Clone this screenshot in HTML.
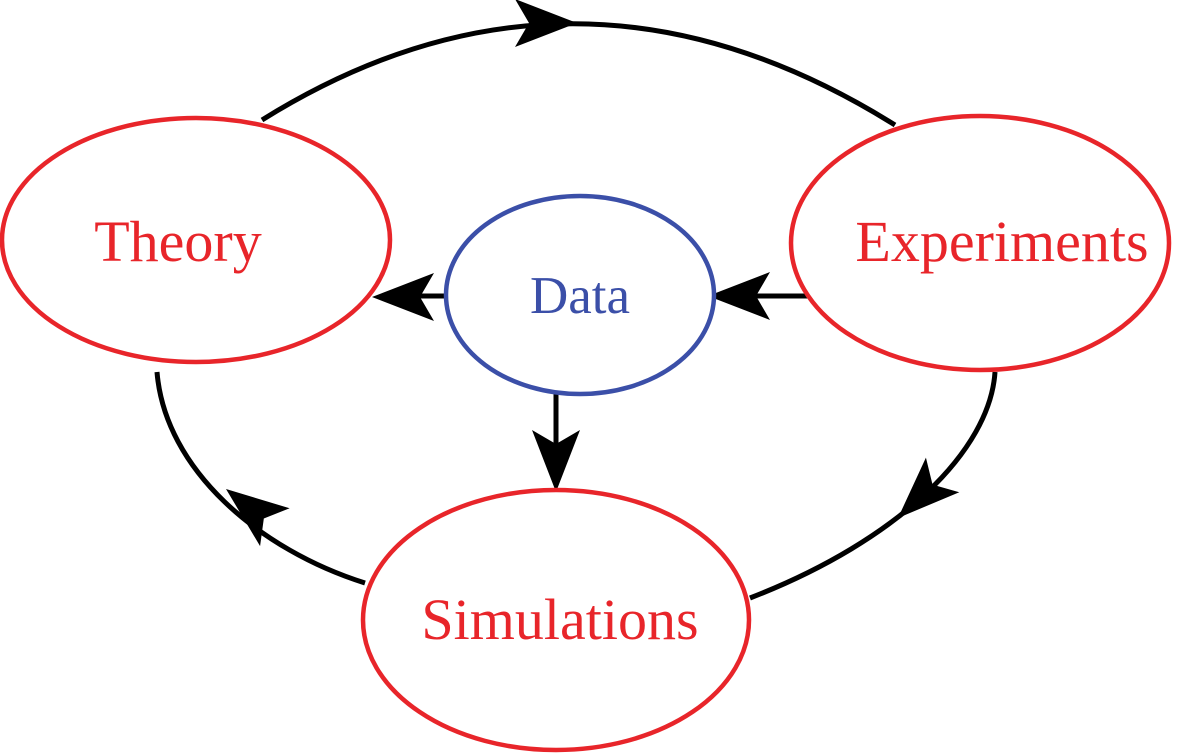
<!DOCTYPE html>
<html><head><meta charset="utf-8"><style>
html,body{margin:0;padding:0;background:#fff;}
svg{display:block;}
</style></head><body>
<svg width="1180" height="755" viewBox="0 0 1180 755" xmlns="http://www.w3.org/2000/svg">
<defs>
<polygon id="ah" points="0,0 -62,-24 -48,0 -62,24" fill="#000"/>
</defs>
<g fill="none" stroke="#000" stroke-width="5">
<path d="M262,120 Q575,-75 895,125"/>
<path d="M995,372 C990,450 900,540 750,598"/>
<path d="M157,372 C165,470 260,550 365,583"/>
<line x1="808" y1="296" x2="720" y2="296"/>
<line x1="445" y1="296" x2="385" y2="296"/>
<line x1="556" y1="392" x2="556" y2="480"/>
</g>
<use href="#ah" transform="translate(577,23) rotate(0)"/>
<use href="#ah" transform="translate(898,518) rotate(136)"/>
<use href="#ah" transform="translate(226,489) rotate(-142)"/>
<use href="#ah" transform="translate(708,296) rotate(180)"/>
<use href="#ah" transform="translate(372,297) rotate(180)"/>
<use href="#ah" transform="translate(556,492) rotate(90)"/>
<g fill="#fff" stroke="#e8252a" stroke-width="4.5">
<ellipse cx="196" cy="240" rx="194" ry="122"/>
<ellipse cx="980" cy="243" rx="189" ry="127"/>
<ellipse cx="556" cy="620" rx="193" ry="130"/>
</g>
<ellipse cx="580" cy="295" rx="134" ry="99" fill="#fff" stroke="#3b4fa8" stroke-width="4.5"/>
<g font-family="'Liberation Serif',serif" text-anchor="middle">
<text x="178" y="261" font-size="58" fill="#e8252a">Theory</text>
<text x="1002" y="261" font-size="58" fill="#e8252a">Experiments</text>
<text x="560" y="639" font-size="58" fill="#e8252a">Simulations</text>
<text x="580" y="313" font-size="53" fill="#3b4fa8">Data</text>
</g>
</svg>
</body></html>
